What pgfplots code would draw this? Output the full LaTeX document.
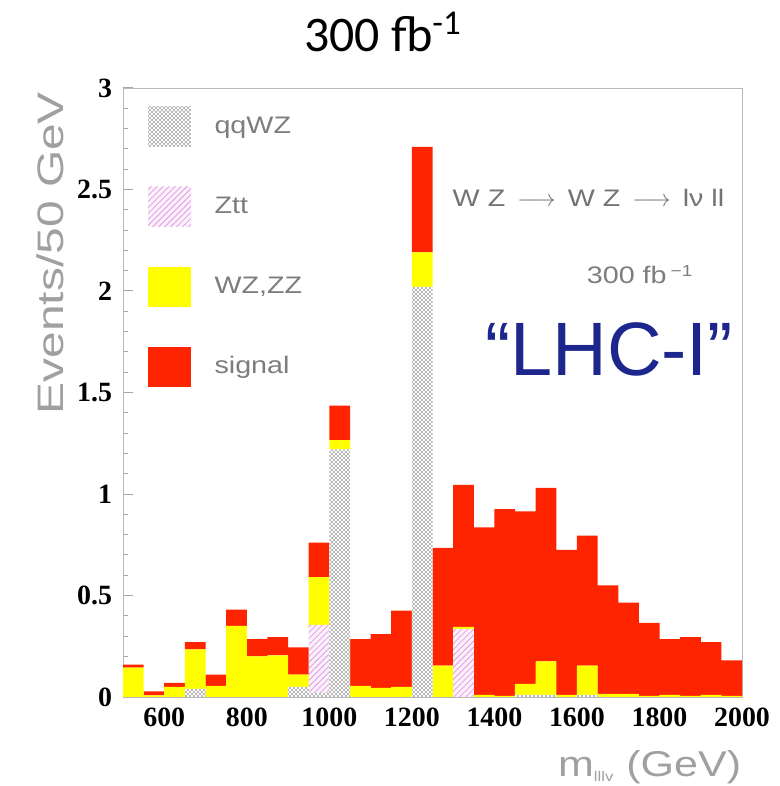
\documentclass[border=0pt]{standalone}
\usepackage{fontspec}
\setmainfont{Liberation Serif}
\newfontfamily\rootfont[FakeStretch=1.2]{Liberation Sans}
\newfontfamily\arialfont{Liberation Sans}
\newfontfamily\calibrifont{Carlito}
\usepackage{pgfplots}
\pgfplotsset{compat=1.18}
\usepackage{pgfplotstable}
\usetikzlibrary{patterns}
\pgfdeclarepatternformonly{checker}{\pgfpointorigin}{\pgfqpoint{2pt}{2pt}}{\pgfqpoint{2pt}{2pt}}{%
  \pgfpathrectangle{\pgfpointorigin}{\pgfqpoint{1pt}{1pt}}%
  \pgfpathrectangle{\pgfqpoint{1pt}{1pt}}{\pgfqpoint{1pt}{1pt}}%
  \pgfusepath{fill}}
\definecolor{sigred}{RGB}{255,36,0}
\definecolor{wzyellow}{RGB}{255,255,0}
\definecolor{zttpink}{RGB}{225,160,225}
\definecolor{zttfill}{RGB}{251,240,251}
\definecolor{textgray}{RGB}{125,125,125}
\definecolor{labelgray}{RGB}{160,160,160}
\definecolor{lhcblue}{RGB}{28,38,140}

\pgfplotstableread{
m    qq    ztt   wz     sig
525  0     0     0.145  0.015
575  0     0     0.008  0.020
625  0     0     0.050  0.020
675  0.040 0     0.195  0.035
725  0     0     0.055  0.055
775  0     0     0.350  0.080
825  0     0     0.200  0.085
875  0     0     0.205  0.090
925  0.050 0     0.060  0.135
975  0.020 0.335 0.235  0.170
1025 1.220 0     0.045  0.170
1075 0     0     0.055  0.230
1125 0     0     0.045  0.265
1175 0     0     0.050  0.375
1225 2.020 0     0.170  0.520
1275 0     0     0.155  0.580
1325 0     0.335 0.010  0.700
1375 0     0     0.010  0.825
1425 0     0     0.005  0.920
1475 0.010 0     0.055  0.850
1525 0.010 0     0.165  0.855
1575 0     0     0.010  0.715
1625 0.010 0     0.145  0.640
1675 0     0     0.015  0.535
1725 0     0     0.015  0.450
1775 0     0     0.005  0.360
1825 0     0     0.010  0.275
1875 0     0     0.005  0.290
1925 0     0     0.010  0.260
1975 0     0     0.005  0.175
}\histdata

\begin{document}
\begin{tikzpicture}
\useasboundingbox (0,0) rectangle (390bp,393bp);
\node[font=\calibrifont\fontsize{25}{25}\selectfont, anchor=base] at (191.5bp,367bp) {300 fb\textsuperscript{-1}};
\begin{axis}[
  at={(61.5bp,44.5bp)}, anchor=south west,
  scale only axis, width=309.5bp, height=304.5bp,
  xmin=500, xmax=2000, ymin=0, ymax=3,
  ybar stacked, bar width=50.4,
  xtick={600,800,1000,1200,1400,1600,1800,2000},
  ytick={0,0.5,1,1.5,2,2.5,3},
  minor x tick num=3, minor y tick num=4,
  tick align=inside, tick pos=left,
  major tick length=5bp, minor tick length=2.5bp,
  axis line style={draw=gray!55},
  every tick/.style={gray!70, line width=0.5pt},
  /pgf/number format/assume math mode=true,
  /pgf/number format/1000 sep={},
  ticklabel style={font=\bfseries\fontsize{14}{14}\selectfont},
  xticklabel style={yshift=-2bp},
  yticklabel style={xshift=-2bp},
  xlabel={m\textsubscript{\fontsize{7}{7}\selectfont lllv} (GeV)},
  xlabel style={at={(axis description cs:1.01,-0.131)}, anchor=base east,
    font=\rootfont\fontsize{18}{18}\selectfont, text=labelgray},
  ylabel={Events/50 GeV},
  ylabel style={at={(axis description cs:-0.118,1.005)}, anchor=east,
    font=\rootfont\addfontfeature{FakeStretch=1.3}\fontsize{18.5}{18.5}\selectfont, text=labelgray},
  legend image code/.code={%
    \path[#1, draw=none] (0bp,-10bp) rectangle (21.5bp,10bp);
    \node[inner sep=0pt, minimum size=0pt, draw=none, fill=none] at (31bp,0bp) {};},
  legend cell align=left,
  legend style={draw=none, fill=none, at={(rel axis cs:0.04,0.97)}, anchor=north west,
    row sep=20bp, inner sep=0pt, font=\rootfont\fontsize{12}{12}\selectfont, text=textgray},
]
\addplot[draw=none, fill=white, postaction={pattern=checker, pattern color=gray!55}] table[x=m, y=qq] {\histdata};
\addlegendentry{qqWZ}
\addplot[draw=none, fill=zttfill, postaction={pattern=north east lines, pattern color=zttpink}] table[x=m, y=ztt] {\histdata};
\addlegendentry{Ztt}
\addplot[draw=none, fill=wzyellow] table[x=m, y=wz] {\histdata};
\addlegendentry{WZ,ZZ}
\addplot[draw=none, fill=sigred] table[x=m, y=sig] {\histdata};
\addlegendentry{signal}
\node[anchor=west, font=\rootfont\fontsize{12}{12}\selectfont, text=gray!90!black] at (axis cs:1282,2.46) {W Z \,$\longrightarrow$\, W Z \,$\longrightarrow$\, lν ll};
\node[anchor=west, font=\rootfont\fontsize{12}{12}\selectfont, text=textgray] at (axis cs:1607,2.08) {300 fb\,\raisebox{0.6ex}{\fontsize{8}{8}\selectfont −1}};
\node[font=\arialfont\fontsize{38}{38}\selectfont, text=lhcblue] at (axis cs:1678,1.71) {“LHC-I”};
\end{axis}
\end{tikzpicture}
\end{document}
